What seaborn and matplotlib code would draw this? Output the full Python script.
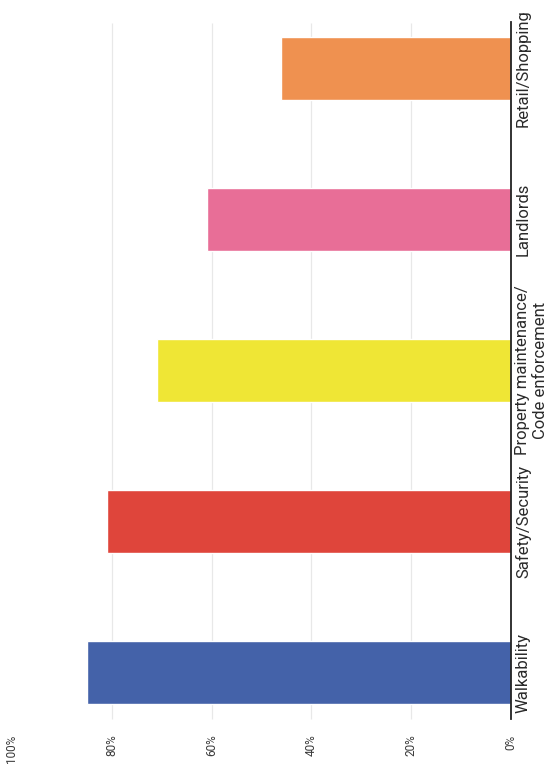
import matplotlib
matplotlib.use("Agg")
import matplotlib.pyplot as plt
import seaborn as sns
import pandas as pd

categories = ["Retail/Shopping", "Landlords",
              "Property maintenance/\nCode enforcement",
              "Safety/Security", "Walkability"]
values = [46, 61, 71, 81, 85]
colors = ["#ef9150", "#e86e97", "#efe635", "#df453b", "#4462a9"]
tick_values = [0, 20, 40, 60, 80, 100]
tick_labels = ["0%", "20%", "40%", "60%", "80%", "100%"]

sns.set_theme(style="white")
plt.rcParams['font.family'] = ['Liberation Sans Narrow', 'Roboto', 'DejaVu Sans']

df = pd.DataFrame({"category": categories, "value": values})

W, H = 560, 772
fig = plt.figure(figsize=(W / 100, H / 100), dpi=100)
x0, x100 = 511, 12
bottom_px = 722
ax = fig.add_axes([x100 / W, (H - bottom_px) / H, (x0 - x100) / W, bottom_px / H])

sns.barplot(data=df, x="value", y="category", hue="category", palette=colors,
            legend=False, width=0.42, orient="h", ax=ax, zorder=2,
            saturation=1)

ax.set_xlim(100, 0)
c0, step = 68.5, 151.0
ax.set_ylim((bottom_px - c0) / step, -c0 / step)

# light vertical gridlines at inner ticks
ax.vlines(tick_values[1:-1], -0.3, 4.31, colors="#e8e8e8", linewidth=0.9, zorder=1)

ax.set_xticks(tick_values)
ax.set_xticklabels(tick_labels, rotation=90, fontsize=8.5, color="#3a3a3a")
ax.tick_params(axis="x", length=0, pad=9)

ax.yaxis.tick_right()
ax.set_yticks(range(len(categories)))
ax.set_yticklabels(categories, rotation=90, va="center", ha="left",
                   multialignment="center", fontsize=12, color="#2a2a2a")
ax.tick_params(axis="y", length=0, pad=3)

ax.set_xlabel("")
ax.set_ylabel("")

for s in ["top", "bottom", "left"]:
    ax.spines[s].set_visible(False)
ax.spines["right"].set_visible(True)
ax.spines["right"].set_color("#222222")
ax.spines["right"].set_linewidth(1.3)
ax.spines["right"].set_bounds(4.31, -0.31)

ax.grid(False)

fig.savefig("out.png", dpi=100)
